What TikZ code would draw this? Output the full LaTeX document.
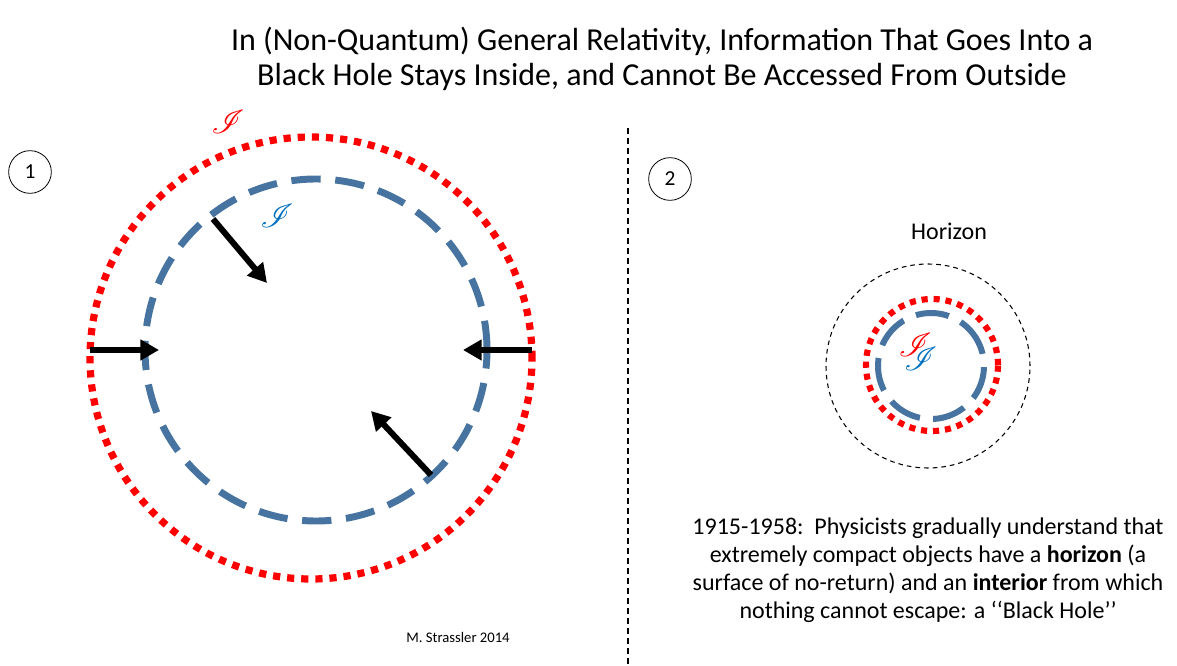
\documentclass[tikz,border=0pt]{standalone}
\usepackage{fontspec}
\setmainfont{Carlito}
\usepackage{mathrsfs}
\usetikzlibrary{arrows.meta}
\definecolor{bhred}{RGB}{255,0,0}
\definecolor{bhblue}{RGB}{70,115,160}
\definecolor{iblue}{RGB}{0,112,192}
\tikzset{
  reddots/.style={draw=bhred, line width=5.4pt, dash pattern=on 5.4pt off 5.2pt},
  bluedash/.style={draw=bhblue, line width=5.2pt, dash pattern=on 22pt off 11pt},
  reddotsS/.style={draw=bhred, line width=4.6pt, dash pattern=on 4.6pt off 4.4pt},
  bluedashS/.style={draw=bhblue, line width=4.5pt, dash pattern=on 25pt off 10pt},
  horizon/.style={draw=black, line width=0.8pt, dash pattern=on 3.5pt off 3pt},
  ring/.style={circle, inner sep=0pt},
  numcirc/.style={circle, draw=black, line width=0.6pt, minimum size=32pt, inner sep=0pt, font=\fontsize{16}{18}\selectfont},
  bigarrow/.style={line width=4.5pt, -{Triangle[length=14pt,width=15pt]}},
  scriptI/.style={inner sep=0pt, font=\fontsize{28}{30}\selectfont},
}
\begin{document}
\begin{tikzpicture}[x=0.75pt,y=-0.75pt]
\useasboundingbox (0,0) rectangle (1177,666);
% title
\node[align=center, font=\fontsize{24}{26.3}\selectfont] (title) at (662,59)
  {In (Non-Quantum) General Relativity, Information That Goes Into a\\Black Hole Stays Inside, and Cannot Be Accessed From Outside};
% divider
\coordinate (dtop) at (628,128);
\coordinate (dbot) at (628,666);
\draw[line width=1.5pt, dash pattern=on 4.5pt off 3pt] (dtop) -- (dbot);
% panel numbers
\node[numcirc] (n1) at (30,172) {1};
\node[numcirc] (n2) at (670,179) {2};
% panel 1 circles
\node[ring, reddots, minimum size=442*0.75pt] (outer) at (311,358) {};
\node[ring, bluedash, minimum size=342*0.75pt] (inner) at (316,350) {};
% script I labels
\node[scriptI, text=bhred] (Ired) at (228,122) {$\mathscr{I}$};
\node[scriptI, text=iblue] (Iblue) at (277,216) {$\mathscr{I}$};
% arrows
\coordinate (a1s) at (90,350);  \coordinate (a1e) at (159,350);
\coordinate (a2s) at (532,350); \coordinate (a2e) at (463,350);
\coordinate (a3s) at (213,219); \coordinate (a3e) at (267,283);
\coordinate (a4s) at (431,475); \coordinate (a4e) at (371,411);
\draw[bigarrow] (a1s) -- (a1e);
\draw[bigarrow] (a2s) -- (a2e);
\draw[bigarrow] (a3s) -- (a3e);
\draw[bigarrow] (a4s) -- (a4e);
% panel 2
\node[ring, horizon, minimum size=204*0.75pt] (hor) at (928,366) {};
\node[font=\fontsize{18}{20}\selectfont] (horlbl) at (949,231) {Horizon};
\node[ring, reddotsS, minimum size=132*0.75pt] (outer2) at (932,365) {};
\node[ring, bluedashS, minimum size=106*0.75pt, rotate=20] (inner2) at (931,366) {};
\node[inner sep=0pt, font=\fontsize{24}{26}\selectfont] (Ipair) at (918,352)
  {\rlap{$\textcolor{bhred}{\mathscr{I}}$}\hspace{4pt}\raisebox{-11pt}{$\textcolor{iblue}{\mathscr{I}}$}};
% caption
\node[align=center, font=\fontsize{18}{21}\selectfont] (cap) at (928,570)
  {1915-1958:\ \ Physicists gradually understand that\\extremely compact objects have a \textbf{horizon} (a\\surface of no-return) and an \textbf{interior} from which\\nothing cannot escape: a \symbol{96}\symbol{96}Black Hole’’};
\node[font=\fontsize{11}{13}\selectfont] (credit) at (458,637) {M. Strassler 2014};
\end{tikzpicture}
\end{document}
